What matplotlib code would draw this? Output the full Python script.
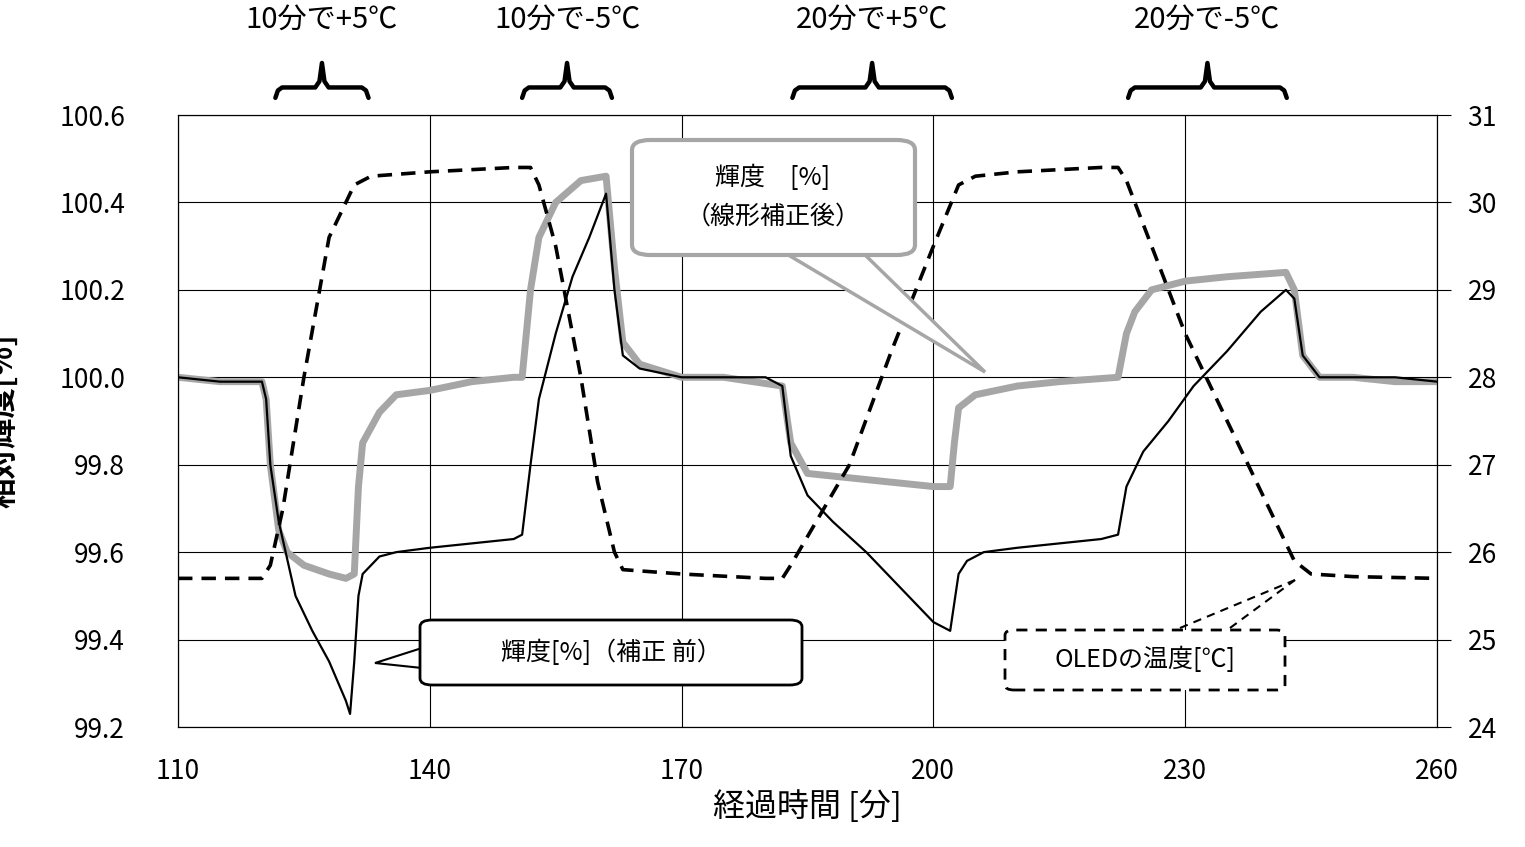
import matplotlib
matplotlib.use("Agg")
import matplotlib.pyplot as plt
from matplotlib.patches import FancyBboxPatch, Polygon
from matplotlib.lines import Line2D

plt.rcParams['font.family'] = ['Noto Sans CJK JP', 'DejaVu Sans']

raw_t = [110,115,120,120.5,121,122,124,126,128,130,130.5,131,131.5,132,134,136,140,145,150,151,152,153,155,157,159,161,162,163,165,170,175,180,182,182.5,183,185,188,192,196,200,202,203,204,206,210,215,220,222,223,225,228,231,235,239,242,243,244,246,250,255,260]
raw_v = [100.0,99.99,99.99,99.95,99.8,99.67,99.5,99.42,99.35,99.26,99.23,99.35,99.5,99.55,99.59,99.6,99.61,99.62,99.63,99.64,99.8,99.95,100.1,100.23,100.32,100.42,100.2,100.05,100.02,100.0,100.0,100.0,99.98,99.9,99.82,99.73,99.67,99.6,99.52,99.44,99.42,99.55,99.58,99.6,99.61,99.62,99.63,99.64,99.75,99.83,99.9,99.98,100.06,100.15,100.2,100.18,100.05,100.0,100.0,100.0,99.99]

cor_t = [110,115,120,120.5,121,122,123,125,128,130,131,131.5,132,134,136,140,145,150,151,152,153,155,158,161,162,163,165,170,175,182,183,185,190,195,200,202,202.5,203,205,210,215,222,223,224,226,230,235,242,243,244,246,250,255,260]
cor_v = [100.0,99.99,99.99,99.95,99.8,99.65,99.6,99.57,99.55,99.54,99.55,99.75,99.85,99.92,99.96,99.97,99.99,100.0,100.0,100.2,100.32,100.4,100.45,100.46,100.25,100.08,100.03,100.0,100.0,99.98,99.85,99.78,99.77,99.76,99.75,99.75,99.85,99.93,99.96,99.98,99.99,100.0,100.1,100.15,100.2,100.22,100.23,100.24,100.2,100.05,100.0,100.0,99.99,99.99]

tmp_t = [110,120,121,122.5,125,128,131,133,140,150,152,153,155,158,160,162,163,170,180,182,183,190,195,200,203,205,210,220,222,223,226,230,235,240,243,245,250,260]
tmp_v = [25.7,25.7,25.85,26.5,28.0,29.6,30.2,30.3,30.35,30.4,30.4,30.2,29.5,28.0,26.8,26.0,25.8,25.75,25.7,25.7,25.85,27.0,28.3,29.5,30.2,30.3,30.35,30.4,30.4,30.25,29.5,28.5,27.5,26.5,25.9,25.75,25.72,25.7]

brace_labels = ["10分で+5℃", "10分で-5℃", "20分で+5℃", "20分で-5℃"]
brace_ranges = [(121.6,132.7),(151.0,161.7),(183.2,202.2),(223.2,242.1)]

W, H = 1525, 847
fig = plt.figure(figsize=(W/100, H/100), dpi=100)
ax = fig.add_axes([178/W, 1-727/H, (1437-178)/W, (727-115)/H])
ax2 = ax.twinx()

ax.plot(cor_t, cor_v, color='#a6a6a6', lw=5, zorder=2)
ax.plot(raw_t, raw_v, color='black', lw=1.6, zorder=3)
ax2.plot(tmp_t, tmp_v, color='black', lw=2.6, ls=(0,(4,2.5)))

ax.set_xlim(110,260); ax.set_ylim(99.2,100.6)
ax2.set_ylim(24,31)
ax.set_xticks([110,140,170,200,230,260])
ax.set_yticks([99.2+0.2*i for i in range(8)])
ax.set_yticklabels([f"{99.2+0.2*i:.1f}" for i in range(8)])
ax2.set_yticks(range(24,32))
ax.grid(True, color='black', lw=0.8)
for a in (ax, ax2):
    a.tick_params(labelsize=19, length=0)
    for s in a.spines.values(): s.set_linewidth(0.8)
ax2.tick_params(axis='y', length=10, direction='out', pad=12)
ax.tick_params(axis='y', pad=38)
for t in ax.get_yticklabels(): t.set_horizontalalignment('right')
ax.tick_params(axis='x', pad=22)
ax.set_xlabel("経過時間 [分]", fontsize=23, labelpad=4)
ax.set_ylabel("相対輝度[%]", fontsize=22, fontweight='bold', labelpad=4)
ax.yaxis.set_label_coords(-0.125, 0.5)

tr = ax.get_xaxis_transform()
for (a, b), lab in zip(brace_ranges, brace_labels):
    c = (a+b)/2
    xs = [a, a+0.3, a+0.8, c-0.8, c-0.3, c, c+0.3, c+0.8, b-0.8, b-0.3, b]
    ys = [1.028, 1.04, 1.045, 1.045, 1.055, 1.085, 1.055, 1.045, 1.045, 1.04, 1.028]
    ax.plot(xs, ys, transform=tr, color='black', lw=3.2, clip_on=False, solid_capstyle='round')
    ax.text(c, 1.155, lab, transform=tr, ha='center', va='center', fontsize=21, clip_on=False)

def P(x, y):
    return (x/W, 1-y/H)

fig.patches.append(Polygon([P(780,250), P(985,372), P(860,250)], closed=False,
                           transform=fig.transFigure, fc='white', ec='#a6a6a6', lw=2.5, zorder=5))
b1 = FancyBboxPatch(P(632,255), 283/W, 115/H, boxstyle="round,pad=0,rounding_size=0.012",
                    transform=fig.transFigure, fc='white', ec='#a6a6a6', lw=3, zorder=6)
fig.patches.append(b1)
fig.text(*P(773,197), "輝度　[%]\n（線形補正後）", ha='center', va='center', fontsize=18, linespacing=1.6, zorder=7)

fig.patches.append(Polygon([P(422,648), P(375,663), P(422,668)], closed=False,
                           transform=fig.transFigure, fc='white', ec='black', lw=1.5, zorder=5))
b2 = FancyBboxPatch(P(420,685), 382/W, 65/H, boxstyle="round,pad=0,rounding_size=0.008",
                    transform=fig.transFigure, fc='white', ec='black', lw=2, zorder=6)
fig.patches.append(b2)
fig.text(*P(611,653), "輝度[%]（補正 前）", ha='center', va='center', fontsize=18, zorder=7)

for x0 in (1180, 1230):
    fig.lines.append(Line2D([x0/W, 1295/W], [1-628/H, 1-580/H], transform=fig.transFigure,
                            color='black', lw=1.5, ls=(0,(4,3))))
b3 = FancyBboxPatch(P(1005,690), 280/W, 60/H, boxstyle="round,pad=0,rounding_size=0.006",
                    transform=fig.transFigure, fc='white', ec='black', lw=2, ls=(0,(4,3)), zorder=6)
fig.patches.append(b3)
fig.text(*P(1145,660), "OLEDの温度[℃]", ha='center', va='center', fontsize=18, zorder=7)

fig.savefig("out.png", dpi=100)
